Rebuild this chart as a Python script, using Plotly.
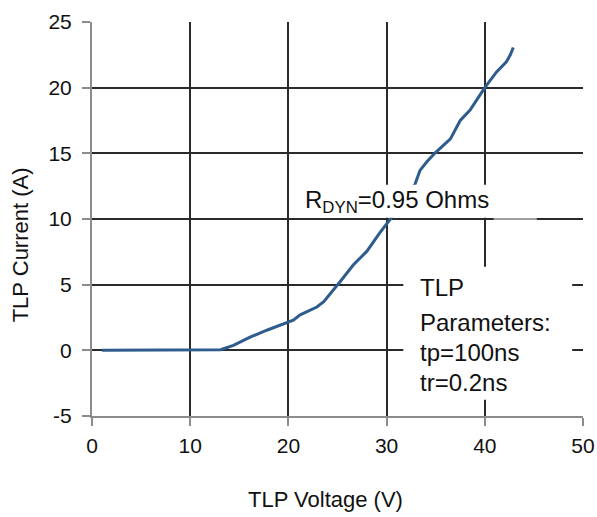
import plotly.graph_objects as go

# TLP I-V curve data
voltage = [1.0, 5.0, 10.0, 12.8, 13.1, 14.4, 16.1, 17.8, 19.5, 20.5, 21.2, 22.9, 23.6, 24.6,
           25.3, 26.6, 28.0, 29.3, 30.5, 32.9, 33.4, 34.1, 34.9, 36.5, 37.0, 37.5,
           38.5, 40.0, 41.2, 42.2, 42.6, 42.9]
current = [0.0, 0.0, 0.0, 0.0, 0.05, 0.38, 1.0, 1.53, 2.04, 2.3, 2.7, 3.3, 3.7, 4.6,
           5.26, 6.5, 7.55, 8.95, 10.1, 12.66, 13.7, 14.36, 15.0, 16.1, 16.8, 17.5,
           18.3, 20.0, 21.2, 21.97, 22.5, 23.06]

x_ticks = [0, 10, 20, 30, 40, 50]
x_tick_labels = ["0", "10", "20", "30", "40", "50"]
y_ticks = [-5, 0, 5, 10, 15, 20, 25]
y_tick_labels = ["-5", "0", "5", "10", "15", "20", "25"]

x_title = "TLP Voltage (V)"
y_title = "TLP Current (A)"
rdyn_label = "R<sub>DYN</sub>=0.95 Ohms"
tlp_lines = ["TLP", "Parameters:", "tp=100ns", "tr=0.2ns"]

FONT = "Liberation Sans, Arial, sans-serif"

fig = go.Figure()
fig.add_trace(go.Scatter(x=voltage, y=current, mode="lines",
                         line=dict(color="#2E5C8C", width=3), showlegend=False,
                         hoverinfo="skip"))

grid = "#2a2a2a"
axis_gray = "#8c8c8c"
fig.update_xaxes(range=[0, 50], tickvals=x_ticks, ticktext=x_tick_labels, automargin=False,
                 showgrid=True, gridcolor=grid, gridwidth=2,
                 zeroline=False, showline=True, linecolor=axis_gray, linewidth=2,
                 ticks="outside", ticklen=8, tickcolor=axis_gray, tickwidth=2,
                 tickfont=dict(family=FONT, size=21, color="#111"), ticklabelstandoff=2)
fig.update_yaxes(range=[-5, 25], tickvals=y_ticks, ticktext=y_tick_labels, automargin=False,
                 showgrid=True, gridcolor=grid, gridwidth=2,
                 zeroline=False, showline=True, linecolor=axis_gray, linewidth=2,
                 ticks="outside", ticklen=8, tickcolor=axis_gray, tickwidth=2,
                 tickfont=dict(family=FONT, size=21, color="#111"), ticklabelstandoff=6)

# white label boxes covering grid/curve
fig.add_shape(type="rect", xref="x", yref="y", x0=21.5, x1=45.3, y0=10.1, y1=12.6,
              fillcolor="white", line=dict(width=0), layer="above")
fig.add_shape(type="rect", xref="x", yref="y", x0=40.9, x1=45.3, y0=9.93, y1=10.07,
              fillcolor="white", opacity=0.55, line=dict(width=0), layer="above")
fig.add_shape(type="rect", xref="x", yref="y", x0=31.7, x1=48.9, y0=-3.77, y1=6.36,
              fillcolor="white", line=dict(width=0), layer="above")

fig.add_annotation(x=21.5, y=10.0, xref="x", yref="y", text=rdyn_label, showarrow=False,
                   xanchor="left", yanchor="bottom", font=dict(family=FONT, size=24, color="#111"))
tlp_y = [4.76, 2.1, -0.19, -2.48]
for txt, yy in zip(tlp_lines, tlp_y):
    fig.add_annotation(x=33.2, y=yy, xref="x", yref="y", text=txt, showarrow=False,
                       xanchor="left", yanchor="middle",
                       font=dict(family=FONT, size=24, color="#111"))

fig.add_annotation(x=0.475, y=-0.213, xref="paper", yref="paper", text=x_title, showarrow=False,
                   xanchor="center", yanchor="middle", font=dict(family=FONT, size=22, color="#111"))
fig.add_annotation(x=-0.146, y=0.434, xref="paper", yref="paper", text=y_title, showarrow=False,
                   textangle=-90, xanchor="center", yanchor="middle",
                   font=dict(family=FONT, size=22, color="#111"))

fig.update_layout(width=597, height=517, margin=dict(l=91.5, r=14, t=21.7, b=101),
                  paper_bgcolor="white", plot_bgcolor="white")

fig.write_html("out.html", config={"displayModeBar": False},
               post_script="document.body.style.margin='0';")
